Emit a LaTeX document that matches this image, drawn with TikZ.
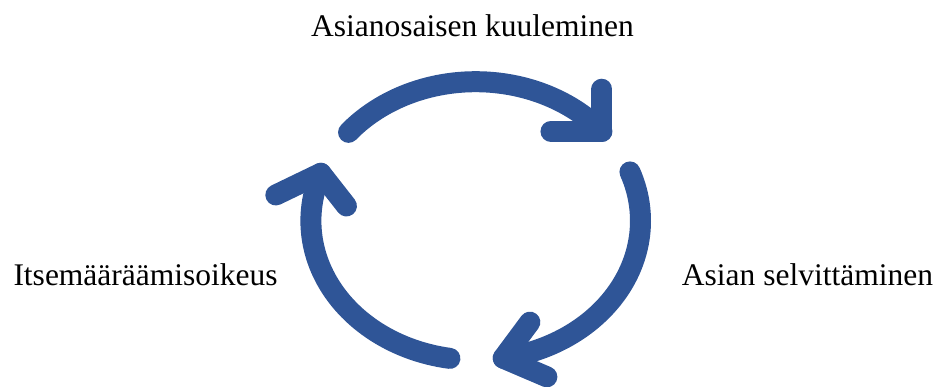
\documentclass[tikz,border=0pt]{standalone}
\usepackage{fontspec}
\setmainfont{Liberation Serif}
\usetikzlibrary{calc}
\definecolor{cycblue}{RGB}{47,85,151}
\begin{document}
\begin{tikzpicture}[x=1pt,y=1pt,
  cycarc/.style={draw=cycblue,line width=21pt,line cap=round,line join=round},
  lbl/.style={inner sep=0pt,font=\fontsize{31.5}{36}\selectfont}]
\useasboundingbox (0,0) rectangle (936,387);
\def\cx{475.7}\def\cy{166.1}\def\rx{164.8}\def\ry{139.2}
% top arrow
\draw[cycarc] ({\cx+\rx*cos(140.5)},{\cy+\ry*sin(140.5)})
  arc[start angle=140.5,end angle=40,x radius=\rx pt,y radius=\ry pt] coordinate (tipT);
\draw[cycarc] ($(tipT)+(0,42.2)$) -- (tipT) -- ($(tipT)+(-51,0)$);
% right arrow
\draw[cycarc] ({\cx+\rx*cos(20.6)},{\cy+\ry*sin(20.6)})
  arc[start angle=20.6,end angle=-80.4,x radius=\rx pt,y radius=\ry pt] coordinate (tipR);
\draw[cycarc] ($(tipR)+(26.7,36)$) -- (tipR) -- ($(tipR)+(43.7,-18.7)$);
% left arrow
\draw[cycarc] ({\cx+\rx*cos(-99)},{\cy+\ry*sin(-99)})
  arc[start angle=-99,end angle=-200,x radius=\rx pt,y radius=\ry pt] coordinate (tipL);
\draw[cycarc] ($(tipL)+(-45,-21.7)$) -- (tipL) -- ($(tipL)+(25.6,-32.7)$);
% labels
\node[lbl,anchor=base] (top) at (472.5,350.3) {Asianosaisen kuuleminen};
\node[lbl,anchor=base west] (left) at (13.3,101) {Itsemääräämisoikeus};
\node[lbl,anchor=base west] (right) at (681.7,101) {Asian selvittäminen};
\end{tikzpicture}
\end{document}
